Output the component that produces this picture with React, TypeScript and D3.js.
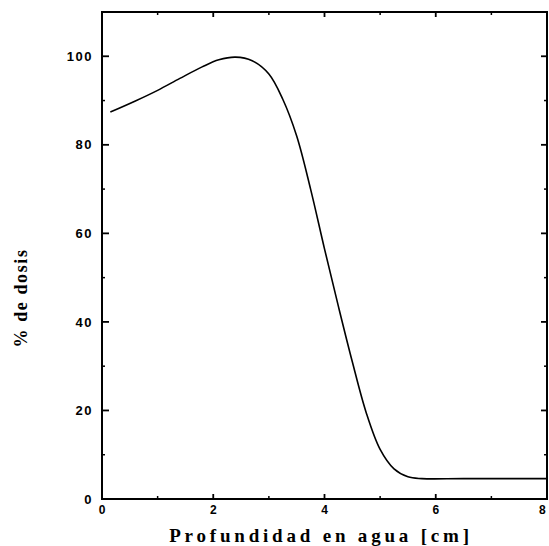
import React from "react";
import * as d3 from "d3";

const depthCm = [0.15, 0.6, 1.0, 1.4, 1.8, 2.1, 2.4, 2.7, 3.0, 3.25, 3.5, 3.75, 4.0, 4.25, 4.5, 4.75, 5.0, 5.25, 5.5, 5.75, 6.5, 8];
const dosePct = [87.4, 89.9, 92.3, 95.0, 97.6, 99.2, 99.8, 99.0, 96.0, 90.3, 82.0, 70.0, 56.5, 43.5, 31.0, 19.5, 11.2, 6.8, 5.0, 4.6, 4.6, 4.6];
const xMajorTicks = [0, 2, 4, 6, 8];
const xMinorTicks = [1, 3, 5, 7];
const yMajorTicks = [0, 20, 40, 60, 80, 100];
const yMinorTicks = [10, 30, 50, 70, 90];
const xTitle = "Profundidad en agua [cm]";
const yTitle = "% de dosis";

const W = 549;
const H = 546;
const L = 102;
const R = 547;
const T = 12;
const B = 499;

export default function App() {
  const x = d3.scaleLinear().domain([0, 8]).range([L, R]);
  const y = d3.scaleLinear().domain([0, 110]).range([B, T]);
  const pts = depthCm.map((d, i) => [d, dosePct[i]] as [number, number]);
  const line = d3
    .line<[number, number]>()
    .x((d) => x(d[0]))
    .y((d) => y(d[1]))
    .curve(d3.curveCatmullRom.alpha(0.5));

  const tickFont = {
    fontFamily: "'Liberation Sans', Arial, sans-serif",
    fontWeight: 700 as const,
    fontSize: 13,
    letterSpacing: 1.5,
  };

  return (
    <svg
      width={W}
      height={H}
      style={{ position: "absolute", left: 0, top: 0, background: "#fff" }}
    >
      <rect x={0} y={0} width={W} height={H} fill="#fff" />
      <rect x={L} y={T} width={R - L} height={B - T} fill="none" stroke="#000" strokeWidth={2} />
      {yMajorTicks.map((v) => (
        <g key={"ym" + v}>
          <line x1={L} x2={L + 7} y1={y(v)} y2={y(v)} stroke="#000" strokeWidth={1.8} />
          <line x1={R} x2={R - 6} y1={y(v)} y2={y(v)} stroke="#000" strokeWidth={1.8} />
          <text x={L - 9} y={y(v)} dy="0.36em" textAnchor="end" {...tickFont}>
            {v}
          </text>
        </g>
      ))}
      {yMinorTicks.map((v) => (
        <g key={"yn" + v}>
          <line x1={L} x2={L + 3} y1={y(v)} y2={y(v)} stroke="#000" strokeWidth={1.5} />
          <line x1={R} x2={R - 3} y1={y(v)} y2={y(v)} stroke="#000" strokeWidth={1.5} />
        </g>
      ))}
      {xMajorTicks.map((v) => (
        <g key={"xm" + v}>
          <line x1={x(v)} x2={x(v)} y1={B} y2={B - 5} stroke="#000" strokeWidth={1.8} />
          <line x1={x(v)} x2={x(v)} y1={T} y2={T + 5} stroke="#000" strokeWidth={1.8} />
          <text x={Math.min(x(v) + 0.75, 543)} y={514} textAnchor="middle" {...tickFont} fontSize={12}>
            {v}
          </text>
        </g>
      ))}
      {xMinorTicks.map((v) => (
        <g key={"xn" + v}>
          <line x1={x(v)} x2={x(v)} y1={B} y2={B - 3} stroke="#000" strokeWidth={1.5} />
          <line x1={x(v)} x2={x(v)} y1={T} y2={T + 3} stroke="#000" strokeWidth={1.5} />
        </g>
      ))}
      <path d={line(pts) || ""} fill="none" stroke="#000" strokeWidth={1.6} />
      <text
        x={321}
        y={542}
        textAnchor="middle"
        fontFamily="'Liberation Serif', 'Times New Roman', serif"
        fontWeight={700}
        fontSize={19}
        letterSpacing={3.8}
      >
        {xTitle}
      </text>
      <text
        transform={`translate(27,298) rotate(-90)`}
        textAnchor="middle"
        fontFamily="'Liberation Serif', 'Times New Roman', serif"
        fontWeight={700}
        fontSize={18}
        letterSpacing={1.6}
      >
        {yTitle}
      </text>
    </svg>
  );
}
